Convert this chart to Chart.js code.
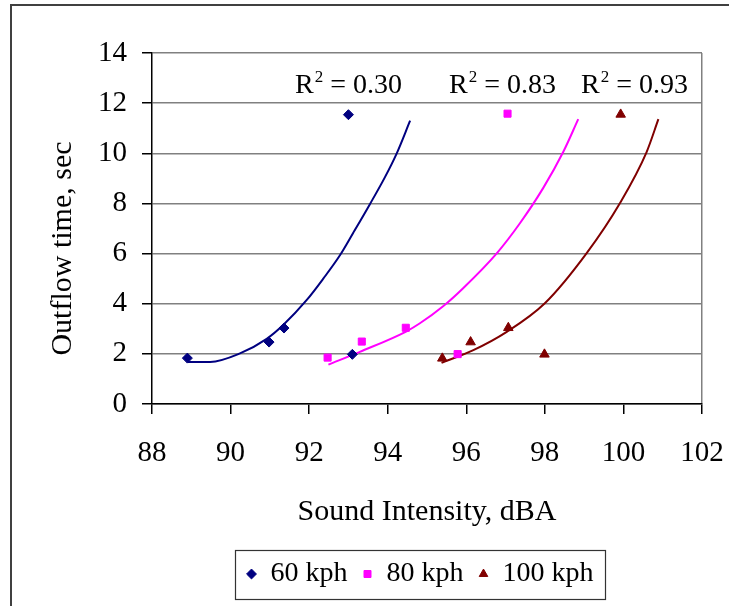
<!DOCTYPE html>
<html>
<head>
<meta charset="utf-8">
<script src="https://cdn.jsdelivr.net/npm/chart.js@4.4.1/dist/chart.umd.min.js"></script>
<style>
  html, body { margin: 0; padding: 0; background: #fff; }
  #wrap { width: 729px; height: 606px; position: relative; }
</style>
</head>
<body>
<div id="wrap"><canvas id="chart"></canvas></div>
<script>
// series names and colours
const seriesNames  = ['60 kph', '80 kph', '100 kph'];
const seriesColors = ['#000080', '#FF00FF', '#800000'];
const pointStyles  = ['rectRot', 'rect', 'triangle'];
const pointSizes   = [5, 5, 5.5];

// measured points (sound intensity dBA, outflow time s)
const x60  = [88.90, 90.98, 91.36, 93.00, 93.10];
const y60  = [1.83, 2.47, 3.03, 11.54, 1.98];
const x80  = [92.47, 93.34, 94.46, 97.05, 95.78];
const y80  = [1.85, 2.49, 3.04, 11.58, 1.99];
const x100 = [95.39, 96.11, 97.07, 99.93, 97.99];
const y100 = [1.82, 2.47, 3.04, 11.55, 1.98];

// trend lines
const trend60X  = [88.91, 89.48, 90.24, 90.92, 91.34, 91.94, 92.36, 92.78, 93.12, 93.55, 93.93, 94.23, 94.57];
const trend60Y  = [1.68, 1.68, 2.02, 2.60, 3.15, 4.15, 5.00, 5.92, 6.82, 7.98, 9.05, 10.00, 11.30];
const trend80X  = [92.49, 93.29, 94.48, 94.82, 95.41, 95.92, 96.77, 97.37, 97.96, 98.47, 98.85];
const trend80Y  = [1.57, 2.08, 2.90, 3.22, 3.90, 4.62, 6.00, 7.22, 8.62, 10.06, 11.36];
const trend100X = [95.37, 96.18, 97.03, 98.00, 99.06, 99.91, 100.59, 100.89];
const trend100Y = [1.64, 2.15, 2.88, 4.02, 6.01, 8.01, 10.05, 11.36];

const r2Values = ['0.30', '0.83', '0.93'];

// axis ticks
const xTicks = [88, 90, 92, 94, 96, 98, 100, 102];
const yTicks = [0, 2, 4, 6, 8, 10, 12, 14];

const FONT = "'Liberation Serif', 'Times New Roman', serif";

const toPoints = (xs, ys) => xs.map((x, i) => ({ x, y: ys[i] }));

const pointSets = [toPoints(x60, y60), toPoints(x80, y80), toPoints(x100, y100)];
const trendSets = [toPoints(trend60X, trend60Y), toPoints(trend80X, trend80Y), toPoints(trend100X, trend100Y)];

const datasets = [];
pointSets.forEach((pts, i) => {
    datasets.push({
        label: seriesNames[i],
        data: pts,
        showLine: false,
        pointStyle: pointStyles[i],
        pointRadius: pointSizes[i],
        pointBackgroundColor: seriesColors[i],
        pointBorderColor: seriesColors[i],
        pointBorderWidth: 1,
        backgroundColor: seriesColors[i],
        borderColor: seriesColors[i]
    });
});
trendSets.forEach((pts, i) => {
    datasets.push({
        label: seriesNames[i] + ' trend',
        data: pts,
        showLine: true,
        pointRadius: 0,
        borderColor: seriesColors[i],
        borderWidth: 2,
        cubicInterpolationMode: 'monotone',
        fill: false
    });
});

// outer frame, legend box, y title and R^2 labels
const extras = {
    id: 'extras',
    afterLayout(chart, args, opts) {
        // nudge the legend a little left, like the original
        const lg = chart.legend;
        lg.left -= opts.legendShift;
        lg.right -= opts.legendShift;
        (lg.legendHitBoxes || []).forEach(h => { h.left -= opts.legendShift; });
    },
    beforeDraw(chart) {
        const ctx = chart.ctx;
        ctx.save();
        ctx.fillStyle = '#fff';
        ctx.fillRect(0, 0, chart.width, chart.height);
        ctx.restore();
    },
    afterDraw(chart, args, opts) {
        const ctx = chart.ctx;
        ctx.save();
        ctx.strokeStyle = '#404040';
        ctx.lineWidth = 2;
        ctx.beginPath();
        ctx.moveTo(11, chart.height);
        ctx.lineTo(11, 5);
        ctx.lineTo(chart.width, 5);
        ctx.stroke();

        const hb = chart.legend.legendHitBoxes;
        if (hb && hb.length) {
            const first = hb[0], last = hb[hb.length - 1];
            const cy = first.top + first.height / 2;
            const left = first.left - 12, right = last.left + last.width + 11;
            ctx.strokeStyle = '#333';
            ctx.lineWidth = 1.2;
            ctx.strokeRect(Math.round(left) + 0.5, Math.round(cy - 24.5) + 0.5, Math.round(right - left), 49);
        }

        // y axis title
        ctx.save();
        ctx.translate(opts.yTitleX, (chart.chartArea.top + chart.chartArea.bottom) / 2 + opts.yTitleShift);
        ctx.rotate(-Math.PI / 2);
        ctx.fillStyle = '#000';
        ctx.textAlign = 'center';
        ctx.textBaseline = 'middle';
        ctx.font = '30px ' + FONT;
        ctx.fillText(opts.yTitle, 0, 0);
        ctx.restore();

        const xs = chart.scales.x, ys = chart.scales.y;
        ctx.fillStyle = '#000';
        ctx.textBaseline = 'alphabetic';
        ctx.textAlign = 'left';
        opts.at.forEach((ax, i) => {
            const px = xs.getPixelForValue(ax);
            const py = ys.getPixelForValue(opts.y);
            ctx.font = '28px ' + FONT;
            ctx.fillText('R', px, py);
            const w = ctx.measureText('R').width;
            ctx.font = '17px ' + FONT;
            ctx.fillText('2', px + w + 1, py - 11);
            const w2 = ctx.measureText('2').width;
            ctx.font = '28px ' + FONT;
            ctx.fillText(' = ' + r2Values[i], px + w + w2 + 1, py);
        });
        ctx.restore();
    }
};

new Chart(document.getElementById('chart'), {
    type: 'scatter',
    data: { datasets },
    plugins: [extras],
    options: {
        responsive: true,
        maintainAspectRatio: false,
        animation: false,
        layout: { padding: { top: 53, right: 27, bottom: 8, left: 0 } },
        plugins: {
            tooltip: { enabled: false },
            extras: {
                at: [91.64, 95.56, 98.92], y: 12.4,
                yTitle: 'Outflow time, sec', yTitleX: 63, yTitleShift: 20,
                legendShift: 7
            },
            legend: {
                position: 'bottom',
                fullSize: false,
                labels: {
                    filter: item => item.datasetIndex < 3,
                    usePointStyle: true,
                    boxHeight: 7,
                    boxWidth: 10,
                    padding: 15,
                    color: '#000',
                    font: { family: FONT, size: 28 }
                }
            }
        },
        scales: {
            x: {
                type: 'linear',
                min: 88, max: 102,
                afterFit: s => { s.height = 141; s.paddingLeft = 0; s.paddingRight = 0; },
                afterBuildTicks: s => { s.ticks = xTicks.map(v => ({ value: v })); },
                ticks: { color: '#000', padding: 22, maxRotation: 0, font: { family: FONT, size: 29 } },
                grid: {
                    color: c => c.tick && c.tick.value === 102 ? '#808080' : 'rgba(0,0,0,0)',
                    lineWidth: 1.5,
                    tickColor: '#000',
                    tickLength: 10
                },
                border: { color: '#000', width: 1.5 },
                title: {
                    display: true,
                    text: 'Sound Intensity, dBA',
                    color: '#000',
                    font: { family: FONT, size: 30 },
                    padding: { top: 0, bottom: 15 }
                }
            },
            y: {
                type: 'linear',
                min: 0, max: 14,
                afterFit: s => { s.width = 152; s.paddingTop = 0; s.paddingBottom = 0; },
                afterBuildTicks: s => { s.ticks = yTicks.map(v => ({ value: v })); },
                ticks: { color: '#000', padding: 15, font: { family: FONT, size: 29 } },
                grid: { color: '#808080', lineWidth: 1.5, tickColor: '#000', tickLength: 10 },
                border: { color: '#000', width: 1.5 }
            }
        }
    }
});
</script>
</body>
</html>
